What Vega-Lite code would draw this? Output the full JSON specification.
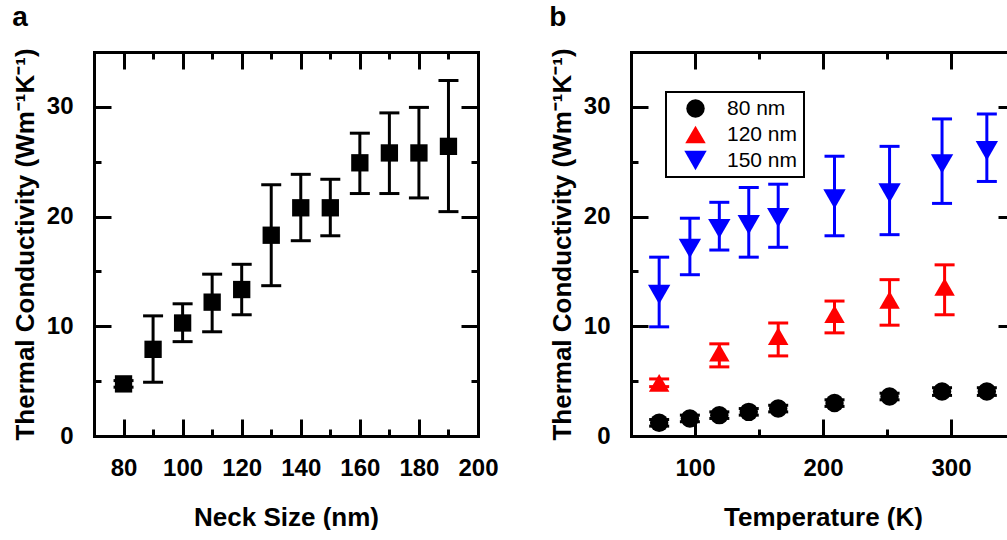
{
  "$schema": "https://vega.github.io/schema/vega-lite/v6.json",
  "background": "white",
  "padding": {"left": 12, "top": 3, "right": 0, "bottom": 0},
  "spacing": 50,
  "config": {
    "view": {"stroke": null},
    "axis": {
      "domainColor": "black", "domainWidth": 3, "domainCap": "square",
      "tickColor": "black", "tickWidth": 3, "grid": false,
      "labelFont": "Liberation Sans", "labelFontSize": 24, "labelFontWeight": "bold", "labelColor": "black",
      "titleFont": "Liberation Sans", "titleFontSize": 26, "titleFontWeight": "bold", "titleColor": "black",
      "labelFlush": false, "labelOverlap": false
    },
    "title": {"font": "Liberation Sans", "fontSize": 28, "fontWeight": "bold", "anchor": "start", "frame": "bounds", "color": "black"},
    "legend": {"strokeWidth": 2}
  },
  "hconcat": [
    {
      "width": 384, "height": 384,
      "title": {"text": "a", "offset": 16},
      "data": {"values": [
        {"neck": 80, "k": 4.75, "lo": 4.45, "hi": 5.05},
        {"neck": 90, "k": 7.9, "lo": 4.9, "hi": 10.95},
        {"neck": 100, "k": 10.3, "lo": 8.6, "hi": 12.05},
        {"neck": 110, "k": 12.2, "lo": 9.5, "hi": 14.75},
        {"neck": 120, "k": 13.35, "lo": 11.05, "hi": 15.65},
        {"neck": 130, "k": 18.3, "lo": 13.7, "hi": 22.9},
        {"neck": 140, "k": 20.8, "lo": 17.8, "hi": 23.85},
        {"neck": 150, "k": 20.8, "lo": 18.25, "hi": 23.4},
        {"neck": 160, "k": 24.9, "lo": 22.1, "hi": 27.6},
        {"neck": 170, "k": 25.8, "lo": 22.1, "hi": 29.45},
        {"neck": 180, "k": 25.8, "lo": 21.7, "hi": 29.95},
        {"neck": 190, "k": 26.4, "lo": 20.45, "hi": 32.4}
      ]},
      "layer": [
        {
          "mark": {"type": "rule", "strokeWidth": 3, "color": "black"},
          "encoding": {
            "x": {"field": "neck", "type": "quantitative", "scale": {"domain": [70, 200], "nice": false, "zero": false},
              "axis": {"orient": "top", "title": null, "labels": false, "values": [80, 90, 100, 110, 120, 130, 140, 150, 160, 170, 180, 190, 200],
                "tickSize": {"condition": {"test": "datum.value % 20 === 0", "value": -17}, "value": -7}}},
            "y": {"field": "lo", "type": "quantitative", "scale": {"domain": [0, 35], "nice": false},
              "axis": {"orient": "right", "title": null, "labels": false, "values": [5, 10, 15, 20, 25, 30],
                "tickSize": {"condition": {"test": "datum.value % 10 === 0", "value": -17}, "value": -7}}},
            "y2": {"field": "hi"}
          }
        },
        {
          "mark": {"type": "tick", "orient": "horizontal", "size": 20, "thickness": 3, "color": "black", "opacity": 1},
          "encoding": {
            "x": {"field": "neck", "type": "quantitative", "scale": {"domain": [70, 200], "nice": false, "zero": false}, "axis": null},
            "y": {"field": "lo", "type": "quantitative", "scale": {"domain": [0, 35], "nice": false}, "axis": null}
          }
        },
        {
          "mark": {"type": "tick", "orient": "horizontal", "size": 20, "thickness": 3, "color": "black", "opacity": 1},
          "encoding": {
            "x": {"field": "neck", "type": "quantitative", "scale": {"domain": [70, 200], "nice": false, "zero": false}, "axis": null},
            "y": {"field": "hi", "type": "quantitative", "scale": {"domain": [0, 35], "nice": false}, "axis": null}
          }
        },
        {
          "mark": {"type": "point", "shape": "square", "filled": true, "size": 300, "color": "black", "opacity": 1},
          "encoding": {
            "x": {"field": "neck", "type": "quantitative", "scale": {"domain": [70, 200], "nice": false, "zero": false},
              "axis": {"orient": "bottom", "title": "Neck Size (nm)", "titlePadding": 14, "labelPadding": 37,
                "values": [80, 90, 100, 110, 120, 130, 140, 150, 160, 170, 180, 190, 200],
                "labelExpr": "datum.value % 20 === 0 ? datum.label : ''",
                "tickSize": {"condition": {"test": "datum.value % 20 === 0", "value": -17}, "value": -7}}},
            "y": {"field": "k", "type": "quantitative", "scale": {"domain": [0, 35], "nice": false},
              "axis": {"orient": "left", "title": "Thermal Conductivity (Wm⁻¹K⁻¹)", "titlePadding": 8, "labelPadding": 38,
                "values": [0, 5, 10, 15, 20, 25, 30],
                "labelExpr": "datum.value % 10 === 0 ? datum.label : ''",
                "tickSize": {"condition": {"test": "datum.value % 10 === 0", "value": -17}, "value": -7}}}
          }
        }
      ],
      "resolve": {"axis": {"x": "independent", "y": "independent"}}
    },
    {
      "width": 384, "height": 384,
      "title": {"text": "b", "offset": 16},
      "data": {"values": [
        {"series": "80 nm", "temp": 72, "k": 1.2, "lo": 0.9, "hi": 1.5},
        {"series": "80 nm", "temp": 96, "k": 1.6, "lo": 1.3, "hi": 1.9},
        {"series": "80 nm", "temp": 119, "k": 1.9, "lo": 1.6, "hi": 2.2},
        {"series": "80 nm", "temp": 142, "k": 2.2, "lo": 1.9, "hi": 2.5},
        {"series": "80 nm", "temp": 165, "k": 2.5, "lo": 2.2, "hi": 2.8},
        {"series": "80 nm", "temp": 209, "k": 3.0, "lo": 2.7, "hi": 3.3},
        {"series": "80 nm", "temp": 252, "k": 3.6, "lo": 3.3, "hi": 3.9},
        {"series": "80 nm", "temp": 293, "k": 4.05, "lo": 3.7, "hi": 4.4},
        {"series": "80 nm", "temp": 328, "k": 4.05, "lo": 3.7, "hi": 4.4},
        {"series": "120 nm", "temp": 72, "k": 4.85, "lo": 4.5, "hi": 5.2},
        {"series": "120 nm", "temp": 119, "k": 7.6, "lo": 6.3, "hi": 8.4},
        {"series": "120 nm", "temp": 165, "k": 9.1, "lo": 7.3, "hi": 10.3},
        {"series": "120 nm", "temp": 209, "k": 11.1, "lo": 9.4, "hi": 12.3},
        {"series": "120 nm", "temp": 252, "k": 12.4, "lo": 10.1, "hi": 14.25},
        {"series": "120 nm", "temp": 295, "k": 13.6, "lo": 11.05, "hi": 15.6},
        {"series": "150 nm", "temp": 72, "k": 12.9, "lo": 9.95, "hi": 16.3},
        {"series": "150 nm", "temp": 96, "k": 17.1, "lo": 14.7, "hi": 19.85},
        {"series": "150 nm", "temp": 119, "k": 18.9, "lo": 16.95, "hi": 21.3},
        {"series": "150 nm", "temp": 142, "k": 19.25, "lo": 16.3, "hi": 22.65},
        {"series": "150 nm", "temp": 165, "k": 19.9, "lo": 17.2, "hi": 22.95},
        {"series": "150 nm", "temp": 209, "k": 21.6, "lo": 18.25, "hi": 25.5},
        {"series": "150 nm", "temp": 252, "k": 22.15, "lo": 18.35, "hi": 26.4},
        {"series": "150 nm", "temp": 293, "k": 24.8, "lo": 21.2, "hi": 28.9},
        {"series": "150 nm", "temp": 328, "k": 26.0, "lo": 23.2, "hi": 29.35}
      ]},
      "layer": [
        {
          "mark": {"type": "rule", "strokeWidth": 3},
          "encoding": {
            "x": {"field": "temp", "type": "quantitative", "scale": {"domain": [50, 350], "nice": false, "zero": false},
              "axis": {"orient": "top", "title": null, "labels": false, "values": [100, 150, 200, 250, 300],
                "tickSize": {"condition": {"test": "datum.value % 100 === 0", "value": -17}, "value": -7}}},
            "y": {"field": "lo", "type": "quantitative", "scale": {"domain": [0, 35], "nice": false},
              "axis": {"orient": "right", "title": null, "labels": false, "values": [5, 10, 15, 20, 25, 30],
                "tickSize": {"condition": {"test": "datum.value % 10 === 0", "value": -17}, "value": -7}}},
            "y2": {"field": "hi"},
            "color": {"field": "series", "type": "nominal", "scale": {"domain": ["80 nm", "120 nm", "150 nm"], "range": ["#000000", "#ff0000", "#0000ff"]}, "legend": null}
          }
        },
        {
          "mark": {"type": "tick", "orient": "horizontal", "size": 20, "thickness": 3, "opacity": 1},
          "encoding": {
            "x": {"field": "temp", "type": "quantitative", "scale": {"domain": [50, 350], "nice": false, "zero": false}, "axis": null},
            "y": {"field": "lo", "type": "quantitative", "scale": {"domain": [0, 35], "nice": false}, "axis": null},
            "color": {"field": "series", "type": "nominal", "scale": {"domain": ["80 nm", "120 nm", "150 nm"], "range": ["#000000", "#ff0000", "#0000ff"]}, "legend": null}
          }
        },
        {
          "mark": {"type": "tick", "orient": "horizontal", "size": 20, "thickness": 3, "opacity": 1},
          "encoding": {
            "x": {"field": "temp", "type": "quantitative", "scale": {"domain": [50, 350], "nice": false, "zero": false}, "axis": null},
            "y": {"field": "hi", "type": "quantitative", "scale": {"domain": [0, 35], "nice": false}, "axis": null},
            "color": {"field": "series", "type": "nominal", "scale": {"domain": ["80 nm", "120 nm", "150 nm"], "range": ["#000000", "#ff0000", "#0000ff"]}, "legend": null}
          }
        },
        {
          "mark": {"type": "point", "filled": true, "opacity": 1},
          "encoding": {
            "x": {"field": "temp", "type": "quantitative", "scale": {"domain": [50, 350], "nice": false, "zero": false},
              "axis": {"orient": "bottom", "title": "Temperature (K)", "titlePadding": 14, "labelPadding": 37,
                "values": [100, 150, 200, 250, 300],
                "labelExpr": "datum.value % 100 === 0 ? datum.label : ''",
                "tickSize": {"condition": {"test": "datum.value % 100 === 0", "value": -17}, "value": -7}}},
            "y": {"field": "k", "type": "quantitative", "scale": {"domain": [0, 35], "nice": false},
              "axis": {"orient": "left", "title": "Thermal Conductivity (Wm⁻¹K⁻¹)", "titlePadding": 8, "labelPadding": 38,
                "values": [0, 5, 10, 15, 20, 25, 30],
                "labelExpr": "datum.value % 10 === 0 ? datum.label : ''",
                "tickSize": {"condition": {"test": "datum.value % 10 === 0", "value": -17}, "value": -7}}},
            "color": {"field": "series", "type": "nominal", "scale": {"domain": ["80 nm", "120 nm", "150 nm"], "range": ["#000000", "#ff0000", "#0000ff"]},
              "legend": {"title": null, "orient": "none", "legendX": 35, "legendY": 40, "strokeColor": "black", "padding": 6, "symbolOffset": 12, "labelOffset": 20, "rowPadding": 4, "labelFont": "Liberation Sans", "labelFontSize": 21, "labelColor": "black", "symbolStrokeWidth": 0}},
            "shape": {"field": "series", "type": "nominal", "scale": {"domain": ["80 nm", "120 nm", "150 nm"], "range": ["circle", "triangle-up", "triangle-down"]},
              "legend": {"title": null, "orient": "none", "legendX": 35, "legendY": 40, "strokeColor": "black", "padding": 6, "symbolOffset": 12, "labelOffset": 20, "rowPadding": 4, "labelFont": "Liberation Sans", "labelFontSize": 21, "labelColor": "black", "symbolStrokeWidth": 0}},
            "size": {"field": "series", "type": "nominal", "scale": {"domain": ["80 nm", "120 nm", "150 nm"], "range": [340, 500, 500]},
              "legend": {"title": null, "orient": "none", "legendX": 35, "legendY": 40, "strokeColor": "black", "padding": 6, "symbolOffset": 12, "labelOffset": 20, "rowPadding": 4, "labelFont": "Liberation Sans", "labelFontSize": 21, "labelColor": "black", "symbolStrokeWidth": 0}}
          }
        }
      ],
      "resolve": {
        "axis": {"x": "independent", "y": "independent"},
        "legend": {"color": "independent", "shape": "independent", "size": "independent"}
      }
    }
  ]
}
